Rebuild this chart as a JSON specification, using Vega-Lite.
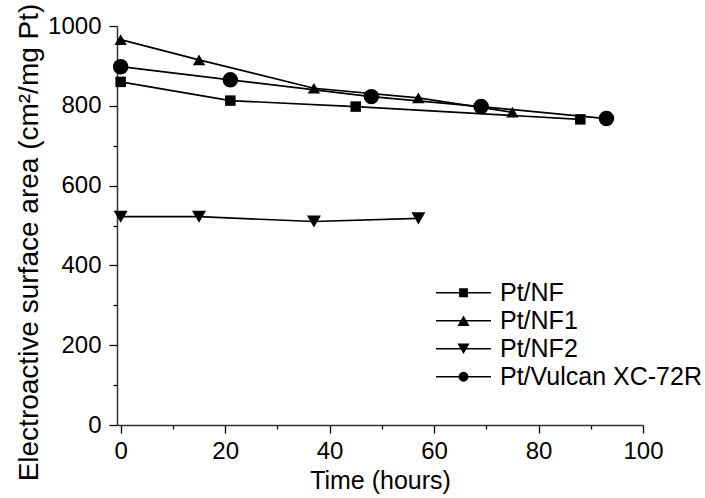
{
  "$schema": "https://vega.github.io/schema/vega-lite/v6.json",
  "autosize": "none",
  "width": 526,
  "height": 399,
  "padding": {"left": 117, "top": 26, "right": 62, "bottom": 73},
  "background": "white",
  "config": {
    "font": "Liberation Sans",
    "view": {"stroke": null},
    "axis": {"grid": false, "labelFont": "Liberation Sans", "titleFont": "Liberation Sans", "labelFontSize": 24, "titleFontSize": 25, "labelColor": "black", "titleColor": "black", "titleFontWeight": "normal", "domainColor": "#333333", "domainWidth": 1.5, "tickColor": "black", "tickWidth": 1.3}
  },
  "data": {"values": [
    {"series": "Pt/NF", "time": 0, "esa": 860},
    {"series": "Pt/NF", "time": 21, "esa": 813},
    {"series": "Pt/NF", "time": 45, "esa": 798},
    {"series": "Pt/NF", "time": 88, "esa": 766},
    {"series": "Pt/NF1", "time": 0, "esa": 966},
    {"series": "Pt/NF1", "time": 15, "esa": 915},
    {"series": "Pt/NF1", "time": 37, "esa": 844},
    {"series": "Pt/NF1", "time": 57, "esa": 820},
    {"series": "Pt/NF1", "time": 75, "esa": 784},
    {"series": "Pt/NF2", "time": 0, "esa": 522},
    {"series": "Pt/NF2", "time": 15, "esa": 522},
    {"series": "Pt/NF2", "time": 37, "esa": 510},
    {"series": "Pt/NF2", "time": 57, "esa": 518},
    {"series": "Pt/Vulcan XC-72R", "time": 0, "esa": 898},
    {"series": "Pt/Vulcan XC-72R", "time": 21, "esa": 865},
    {"series": "Pt/Vulcan XC-72R", "time": 48, "esa": 823},
    {"series": "Pt/Vulcan XC-72R", "time": 69, "esa": 798},
    {"series": "Pt/Vulcan XC-72R", "time": 93, "esa": 768}
  ]},
  "encoding": {
    "x": {"field": "time", "type": "quantitative", "scale": {"domain": [-0.7, 100], "nice": false, "zero": false},
      "axis": {"title": "Time (hours)", "values": [0, 10, 20, 30, 40, 50, 60, 70, 80, 90, 100], "format": "d", "labelExpr": "datum.value % 20 === 0 ? datum.label : ''", "tickSize": {"condition": {"test": "datum.value % 20 === 0", "value": 8}, "value": 4}, "labelPadding": 6, "titlePadding": 5, "labelFlush": false, "labelOverlap": false}},
    "y": {"field": "esa", "type": "quantitative", "scale": {"domain": [0, 1000], "nice": false},
      "axis": {"title": "Electroactive surface area (cm²/mg Pt)", "titleFontSize": 28, "titleX": -80, "titleY": 216, "titleBaseline": "alphabetic", "values": [0, 100, 200, 300, 400, 500, 600, 700, 800, 900, 1000], "format": "d", "labelExpr": "datum.value % 200 === 0 ? datum.label : ''", "tickSize": {"condition": {"test": "datum.value % 200 === 0", "value": 8}, "value": 4}, "labelPadding": 8, "labelOverlap": false, "labelFlush": false}}
  },
  "layer": [
    {
      "mark": {"type": "line", "color": "black", "strokeWidth": 1.7},
      "encoding": {
        "detail": {"field": "series", "type": "nominal"}
      }
    },
    {
      "mark": {"type": "point", "filled": true, "color": "black", "opacity": 1, "strokeWidth": 0},
      "encoding": {
        "shape": {"field": "series", "type": "nominal", "scale": {"domain": ["Pt/NF", "Pt/NF1", "Pt/NF2", "Pt/Vulcan XC-72R"], "range": ["square", "triangle-up", "triangle-down", "circle"]}, "legend": null},
        "size": {"field": "series", "type": "ordinal", "scale": {"domain": ["Pt/NF", "Pt/NF1", "Pt/NF2", "Pt/Vulcan XC-72R"], "range": [110, 240, 240, 140]}, "legend": null}
      }
    },
    {
      "mark": {"type": "point", "filled": true, "color": "black", "opacity": 0},
      "encoding": {
        "shape": {"field": "series", "type": "nominal", "scale": {"domain": ["Pt/NF", "Pt/NF1", "Pt/NF2", "Pt/Vulcan XC-72R"], "range": [
          "M-1,-0.03H1V0.03H-1ZM-0.16,-0.16H0.16V0.16H-0.16Z",
          "M-1,-0.03H1V0.03H-1ZM0,-0.19L0.22,0.19L-0.22,0.19Z",
          "M-1,-0.03H1V0.03H-1ZM0,0.19L-0.22,-0.19L0.22,-0.19Z",
          "M-1,-0.03H1V0.03H-1ZM0.18,0L0.1663,0.0689L0.1273,0.1273L0.0689,0.1663L0,0.18L-0.0689,0.1663L-0.1273,0.1273L-0.1663,0.0689L-0.18,0L-0.1663,-0.0689L-0.1273,-0.1273L-0.0689,-0.1663L0,-0.18L0.0689,-0.1663L0.1273,-0.1273L0.1663,-0.0689Z"
        ]}, "legend": {"title": null, "orient": "none", "legendX": 318, "legendY": 253, "padding": 0, "symbolSize": 3025, "symbolOpacity": 1, "symbolFillColor": "black", "labelFont": "Liberation Sans", "labelFontSize": 25, "labelColor": "black", "labelOffset": 8, "labelLimit": 400, "rowPadding": 0, "clipHeight": 27.5}}
      }
    }
  ],
  "resolve": {"scale": {"shape": "independent"}, "legend": {"shape": "independent"}}
}
